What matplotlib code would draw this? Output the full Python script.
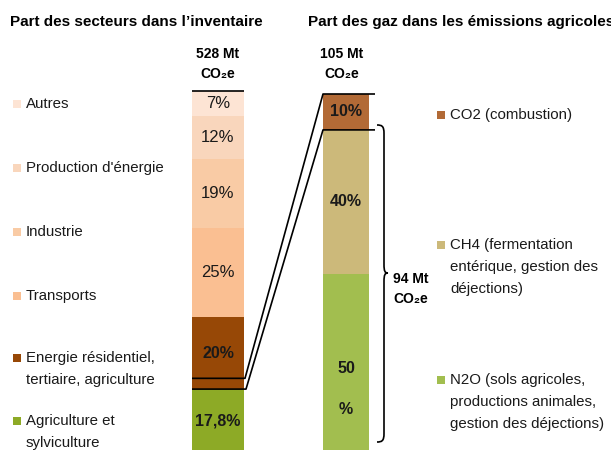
import matplotlib
matplotlib.use("Agg")
import matplotlib.pyplot as plt
from matplotlib.path import Path
from matplotlib.patches import PathPatch
import numpy as np

# Data: share of sectors in the inventory (bottom to top)
sectors = ["Agriculture et\nsylviculture", "Energie résidentiel,\ntertiaire, agriculture",
           "Transports", "Industrie", "Production d'énergie", "Autres"]
sector_share = [17.8, 20, 25, 19, 12, 7]
sector_labels = ["17,8%", "20%", "25%", "19%", "12%", "7%"]
sector_bold = [True, True, False, False, False, False]
sector_colors = ["#8DAA26", "#974806", "#FABF92", "#F9CBA5", "#F9D6BC", "#FDE4D4"]

# Data: share of gases in agricultural emissions (bottom to top)
gases = ["N2O (sols agricoles,\nproductions animales,\ngestion des déjections)",
         "CH4 (fermentation\nentérique, gestion des\ndéjections)",
         "CO2 (combustion)"]
gas_share = [50, 40, 10]
gas_labels = ["50\n%", "40%", "10%"]
gas_colors = ["#A2BE4F", "#CCB97A", "#B26A36"]

total_inventory = "528 Mt\nCO₂e"
total_agri = "105 Mt\nCO₂e"
agri_only = "94 Mt\nCO₂e"
agri_energy_share = 3.0  # slice of "Energie" zoomed into the second bar

NARROW = ["Liberation Sans Narrow", "Liberation Sans", "DejaVu Sans"]
REG = ["Liberation Sans", "DejaVu Sans"]

Y0, S = 453, 3.59   # pixel of 0 %, pixels per %
def py(p):
    return (Y0 - p) / S

fig = plt.figure(figsize=(6.11, 4.5), dpi=100)
ax = fig.add_axes([0, 0, 1, 1])
ax.set_xlim(0, 611)
ax.set_ylim(py(450), py(0))
ax.axis("off")

# left bar
lx, lw = 218, 52
bottoms = np.concatenate([[0], np.cumsum(sector_share)[:-1]])
ax.bar(lx, sector_share, lw, bottom=bottoms, color=sector_colors, linewidth=0)
for b, v, lab, bold in zip(bottoms, sector_share, sector_labels, sector_bold):
    ax.text(lx, b + v / 2, lab, ha="center", va="center",
            fontsize=11.5 if bold else 12, family=REG,
            fontweight="bold" if bold else "normal", color="#1a1a1a")

# right bar
rx, rw = 346, 46
gb = np.concatenate([[0], np.cumsum(gas_share)[:-1]])
ax.bar(rx, gas_share, rw, bottom=gb, color=gas_colors, linewidth=0)
for b, v, lab in zip(gb, gas_share, gas_labels):
    yy = py(389) if "\n" in lab else b + v / 2
    ax.text(rx, yy, lab, ha="center", va="center",
            fontsize=11.5, family=REG, fontweight="bold", color="#1a1a1a",
            linespacing=3.2)

# outline lines
left_top = sum(sector_share)
right_top = sum(gas_share)
ag_low = sector_share[0]
ag_high = sector_share[0] + agri_energy_share
ch4_top = gas_share[0] + gas_share[1]
lk = dict(color="black", lw=1.2, solid_capstyle="butt")
ax.plot([lx - lw / 2, lx + lw / 2], [left_top, left_top], **lk)
ax.plot([lx - lw / 2, lx + lw / 2 + 1, rx - rw / 2, rx + rw / 2 + 6],
        [ag_high, ag_high, right_top, right_top], **lk)
ax.plot([lx - lw / 2, lx + lw / 2 + 2, rx - rw / 2, rx + rw / 2 + 6],
        [ag_low, ag_low, ch4_top, ch4_top], **lk)

# curly brace
bx, top, bot, mid = 384, py(125), py(442), py(273)
hy = 1.2
verts = [(377, top), (382, top), (bx, top - 0.3), (bx, top - hy * 2),
         (bx, mid + hy * 2),
         (bx, mid + 0.4), (bx + 1, mid), (bx + 4, mid),
         (bx + 1, mid), (bx, mid - 0.4), (bx, mid - hy * 2),
         (bx, bot + hy * 2),
         (bx, bot + 0.3), (382, bot), (377, bot)]
codes = [Path.MOVETO, Path.CURVE4, Path.CURVE4, Path.CURVE4,
         Path.LINETO,
         Path.CURVE4, Path.CURVE4, Path.CURVE4,
         Path.CURVE4, Path.CURVE4, Path.CURVE4,
         Path.LINETO,
         Path.CURVE4, Path.CURVE4, Path.CURVE4]
ax.add_patch(PathPatch(Path(verts, codes), fill=False, lw=1.2, edgecolor="black"))
ax.text(393, py(289), agri_only, ha="left", va="center", fontsize=10,
        family=NARROW, fontweight="bold", linespacing=1.5)

# titles
ax.text(10, py(22), "Part des secteurs dans l’inventaire", ha="left", va="center",
        fontsize=11, family=NARROW, fontweight="bold")
ax.text(308, py(22), "Part des gaz dans les émissions agricoles", ha="left", va="center",
        fontsize=11, family=NARROW, fontweight="bold")
ax.text(lx, py(64), total_inventory, ha="center", va="center", fontsize=10,
        family=NARROW, fontweight="bold", linespacing=1.5)
ax.text(rx - 4, py(64), total_agri, ha="center", va="center", fontsize=10,
        family=NARROW, fontweight="bold", linespacing=1.5)

# left legend
left_pos = [432, 369, 296, 232, 168, 104]
for name, col, p in zip(sectors, sector_colors, left_pos):
    first = p - 11 if "\n" in name else p
    ax.scatter([17], [py(first)], marker="s", s=40, color=col, linewidths=0)
    ax.text(26, py(p), name, ha="left", va="center", fontsize=10.8, family=REG,
            color="#1a1a1a", linespacing=1.7)

# right legend
right_pos = [402, 267, 115]
for name, col, p in zip(gases, gas_colors, right_pos):
    n = name.count("\n")
    first = p - 11 * n
    ax.scatter([441], [py(first)], marker="s", s=40, color=col, linewidths=0)
    ax.text(450, py(p), name, ha="left", va="center", fontsize=10.8, family=REG,
            color="#1a1a1a", linespacing=1.7)

fig.savefig("out.png", dpi=100)
